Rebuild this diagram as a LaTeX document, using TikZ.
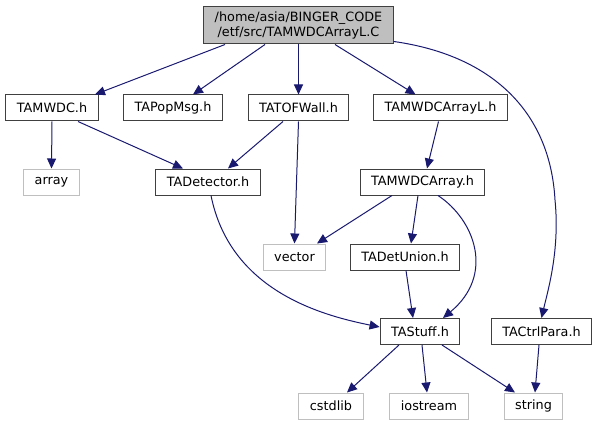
\documentclass[tikz,border=0pt]{standalone}
\usepackage{fontspec}
\setmainfont{DejaVu Sans}
\usepackage{tikz}
\usetikzlibrary{arrows.meta}
\definecolor{lnk}{HTML}{191970}
\definecolor{frame}{HTML}{404040}
\definecolor{syst}{HTML}{BFBFBF}
\tikzset{
  hbox/.style={draw=frame,fill=white,line width=1pt,inner xsep=11pt,inner ysep=0pt,minimum height=26pt,font=\fontsize{12.8}{15.7}\selectfont},
  sbox/.style={hbox,draw=syst},
  rbox/.style={hbox,fill=syst,align=center,minimum height=37pt},
  dep/.style={-{Triangle[length=10pt,width=9pt]},line width=1pt,color=lnk}}

\begin{document}
\begin{tikzpicture}[x=1pt,y=-1pt]
\useasboundingbox (0,0) rectangle (597,425);
\node[rbox] (root) at (298.5,25.5) {/home/asia/BINGER\_CODE\\/etf/src/TAMWDCArrayL.C};
\node[hbox] (tamwdc) at (52,108) {TAMWDC.h};
\node[hbox] (tapopmsg) at (173,108) {TAPopMsg.h};
\node[hbox] (tatofwall) at (298.5,108) {TATOFWall.h};
\node[hbox] (tamwdcarrayl) at (440.5,108) {TAMWDCArrayL.h};
\node[sbox] (array) at (51.5,182) {array};
\node[hbox] (tadetector) at (208,182) {TADetector.h};
\node[hbox] (tamwdcarray) at (422.5,182) {TAMWDCArray.h};
\node[sbox] (vector) at (294.5,257) {vector};
\node[hbox] (tadetunion) at (405,257) {TADetUnion.h};
\node[hbox] (tastuff) at (420,331.5) {TAStuff.h};
\node[hbox] (tactrlpara) at (541.5,331.5) {TACtrlPara.h};
\node[sbox] (cstdlib) at (331,406) {cstdlib};
\node[sbox] (iostream) at (429,406) {iostream};
\node[sbox] (string) at (533.5,406) {string};
% includes of the source file
\draw[dep] ([xshift=-73.5pt]root.south) -- ([xshift=43pt]tamwdc.north);
\draw[dep] ([xshift=-33.5pt]root.south) -- ([xshift=20pt]tapopmsg.north);
\draw[dep] (root.south) -- (tatofwall.north);
\draw[dep] ([xshift=36.5pt]root.south) -- ([xshift=-25pt]tamwdcarrayl.north);
\draw[dep] ([yshift=3pt]root.south east) .. controls (490,55) and (550,110) .. (555,200)
  .. controls (560,250) and (548,290) .. (tactrlpara.north);
% headers
\draw[dep] (tamwdc.south) -- (array.north);
\draw[dep] ([xshift=26pt]tamwdc.south) -- ([xshift=-25pt]tadetector.north);
\draw[dep] ([xshift=-15.5pt]tatofwall.south) -- ([xshift=20pt]tadetector.north);
\draw[dep] (tatofwall.south) -- (vector.north);
\draw[dep] ([xshift=-2pt]tamwdcarrayl.south) -- ([xshift=4.5pt]tamwdcarray.north);
\draw[dep] ([xshift=-30.5pt]tamwdcarray.south) -- ([xshift=22.5pt]vector.north);
\draw[dep] ([xshift=-4.5pt]tamwdcarray.south) -- ([xshift=6pt]tadetunion.north);
\draw[dep] ([xshift=15.5pt]tamwdcarray.south) .. controls (475,220) and (495,275) .. ([xshift=23pt]tastuff.north);
\draw[dep] ([xshift=3pt]tadetector.south) .. controls (230,290) and (320,315) .. ([yshift=4.5pt]tastuff.west);
\draw[dep] ([xshift=1pt]tadetunion.south) -- ([xshift=-7pt]tastuff.north);
\draw[dep] ([xshift=-21pt]tastuff.south) -- ([xshift=16pt]cstdlib.north);
\draw[dep] ([xshift=2pt]tastuff.south) -- ([xshift=-2pt]iostream.north);
\draw[dep] ([xshift=22pt]tastuff.south) -- ([xshift=-18.5pt]string.north);
\draw[dep] ([xshift=-2.5pt]tactrlpara.south) -- ([xshift=1.5pt]string.north);
\end{tikzpicture}
\end{document}
